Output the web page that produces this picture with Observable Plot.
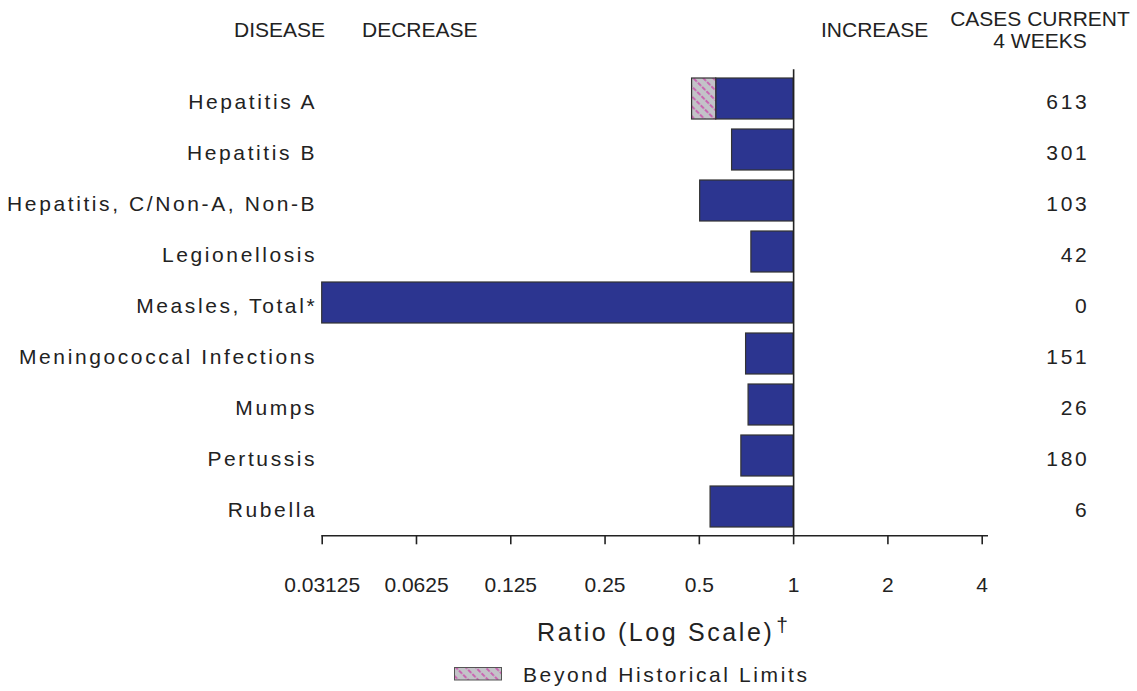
<!DOCTYPE html>
<html><head><meta charset="utf-8">
<script src="https://cdn.jsdelivr.net/npm/d3@7"></script>
<script src="https://cdn.jsdelivr.net/npm/@observablehq/plot@0.6"></script>
<style>
body{margin:0;background:#fff;font-family:"Liberation Sans",Arial,sans-serif;color:#222}
#wrap{position:relative;width:1137px;height:691px;overflow:hidden;background:#fff}
#chart{position:absolute;left:0;top:0}
.t{position:absolute;line-height:1;white-space:nowrap;font-size:21px;color:#222}
.sp{letter-spacing:2.6px}
#chart g[aria-label="y-axis tick label"] text, #chart g[aria-label="text"] text{letter-spacing:2.6px}
</style></head>
<body><div id="wrap">
<div id="chart"></div>
<div class="t" style="left:234px;top:19px">DISEASE</div>
<div class="t" style="left:362px;top:19px">DECREASE</div>
<div class="t" style="left:821px;top:19px">INCREASE</div>
<div class="t" style="left:940px;width:200px;top:8px;line-height:22px;text-align:center">CASES CURRENT<br>4 WEEKS</div>
<div class="t" style="left:537px;top:620px;font-size:25px;letter-spacing:2.6px">Ratio (Log Scale)<span style="position:relative;top:-9px;font-size:21px;margin-left:2px">†</span></div>
<svg style="position:absolute;left:454px;top:667px" width="49" height="14">
  <defs><pattern id="hatchLegend" patternUnits="userSpaceOnUse" width="7" height="6" patternTransform="rotate(-45)">
    <rect width="7" height="6" fill="#c3c3c8"></rect>
    <line x1="1" y1="0" x2="1" y2="6" stroke="#cc3fa8" stroke-width="1.4" stroke-dasharray="4.5 1.5"></line>
  </pattern></defs>
  <rect x="0.5" y="0.5" width="47" height="12.5" fill="url(#hatchLegend)" stroke="#555" stroke-width="1"></rect>
</svg>
<div class="t sp" style="left:523px;top:664px">Beyond Historical Limits</div>
</div>
<script>
const diseases = ["Hepatitis A","Hepatitis B","Hepatitis, C/Non-A, Non-B","Legionellosis","Measles, Total*","Meningococcal Infections","Mumps","Pertussis","Rubella"];
const ratios = [0.474,0.636,0.503,0.733,0.03125,0.705,0.718,0.681,0.543];
const historicalLimits = [0.566,null,null,null,null,null,null,null,null];
const cases = [613,301,103,42,0,151,26,180,6];
const xTicks = [0.03125,0.0625,0.125,0.25,0.5,1,2,4];

const rows = diseases.map((d,i)=>({disease:d, ratio:ratios[i], limit:historicalLimits[i], cases:cases[i]}));
const beyond = rows.filter(r=>r.limit!=null);

const defs = () => {
  const g = d3.create("svg:defs");
  const p = g.append("pattern").attr("id","hatch").attr("patternUnits","userSpaceOnUse")
    .attr("width",7).attr("height",6).attr("patternTransform","rotate(-45)");
  p.append("rect").attr("width",7).attr("height",6).attr("fill","#c3c3c8");
  p.append("line").attr("x1",1).attr("y1",0).attr("x2",1).attr("y2",6)
    .attr("stroke","#cc3fa8").attr("stroke-width",1.4).attr("stroke-dasharray","4.5 1.5");
  return g.node();
};

const plot = Plot.plot({
  width:1137, height:691,
  marginLeft:321.7, marginRight:155.3, marginTop:69.3, marginBottom:155.7,
  style:{fontFamily:"Liberation Sans, Arial, sans-serif", fontSize:"21px", color:"#222", background:"transparent"},
  x:{type:"log", base:2, domain:[0.03125,4]},
  y:{domain:diseases, paddingInner:0.2, paddingOuter:0.1},
  marks:[
    defs,
    Plot.barX(rows,{y:"disease", x1:d=>d.limit ?? d.ratio, x2:()=>1, fill:"#2c3590", stroke:"#333", strokeWidth:1.2}),
    Plot.barX(beyond,{y:"disease", x1:"ratio", x2:"limit", fill:"url(#hatch)", stroke:"#333", strokeWidth:1.2}),
    Plot.ruleX([1],{stroke:"#222", strokeWidth:1.6}),
    Plot.frame({anchor:"bottom", stroke:"#222", strokeWidth:1.6, insetRight:-5}),
    Plot.axisX({ticks:xTicks, tickFormat:d=>String(d), tickSize:9, tickPadding:32, fontSize:21, label:null, stroke:"#222", strokeWidth:1.6}),
    Plot.axisY({tickSize:0, tickPadding:5, fontSize:21, dy:3, label:null}),
    Plot.text(rows,{y:"disease", text:"cases", frameAnchor:"right", dx:107, dy:3, textAnchor:"end", fontSize:21, fill:"#222"})
  ]
});
document.getElementById("chart").appendChild(plot);
</script>
</body></html>
